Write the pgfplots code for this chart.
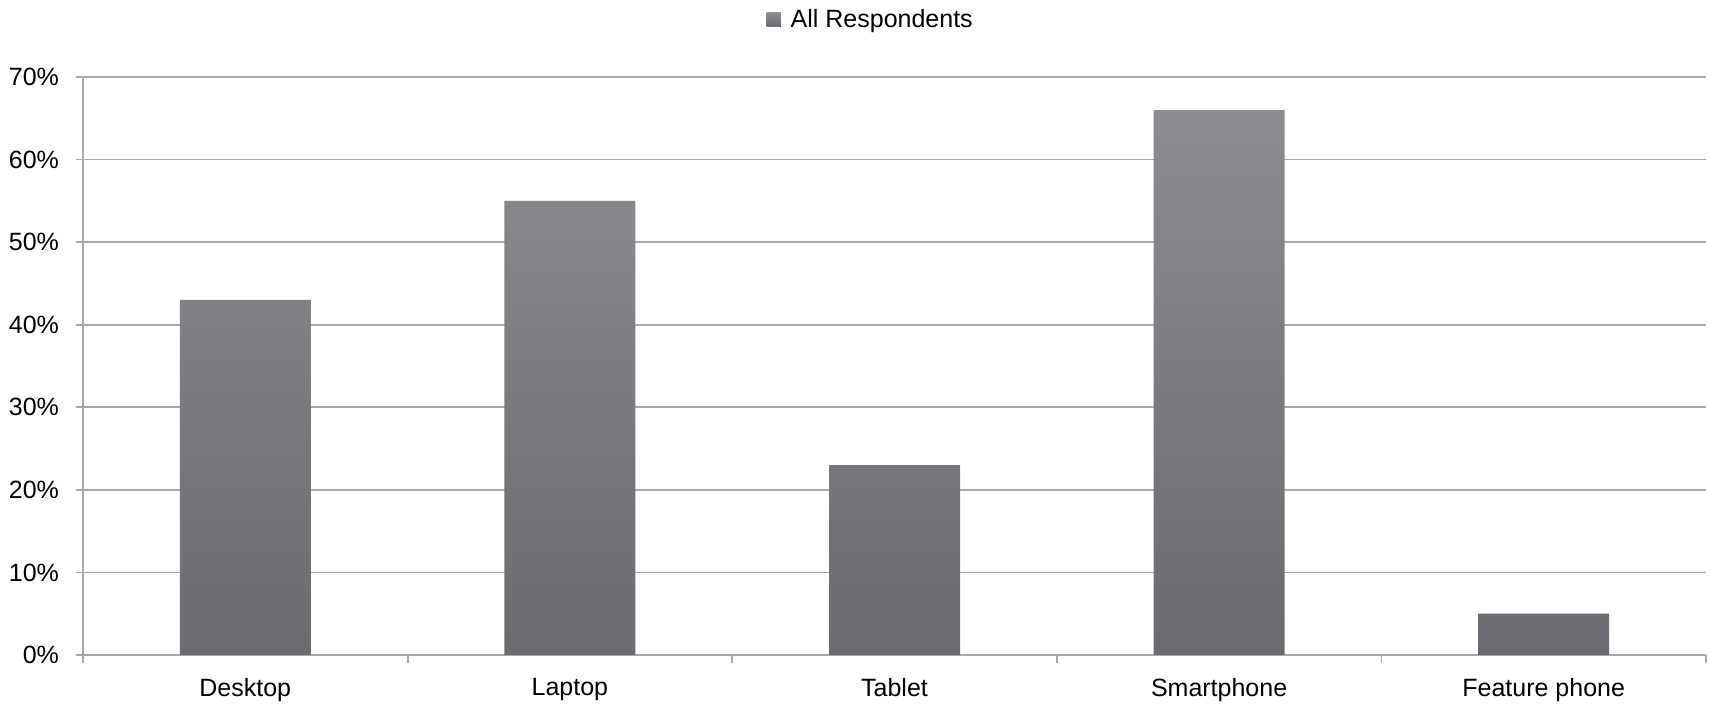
\documentclass[border=0pt]{standalone}
\usepackage{pgfplots}
\pgfplotsset{compat=1.18}
\usepackage{fontspec}
\setmainfont{Liberation Sans}
\definecolor{barTop}{HTML}{8C8D91}
\definecolor{barBot}{HTML}{6A6B6F}
\definecolor{gridc}{HTML}{A8A8A8}
\begin{document}
\begin{tikzpicture}
\useasboundingbox (-41.5pt,-24.5pt) rectangle (813pt,327.5pt);
\begin{axis}[
  at={(0,0)}, anchor=south west,
  scale only axis, width=811.5pt, height=289pt,
  xmin=-0.5, xmax=4.5, ymin=0, ymax=70,
  axis x line*=bottom, axis y line*=left,
  axis line style={gridc, line width=0.9pt},
  xtick={0,1,2,3,4},
  xticklabels={Desktop, Laptop, Tablet, Smartphone, Feature phone},
  major x tick style={draw=none},
  minor xtick={-0.5,0.5,1.5,2.5,3.5,4.5},
  minor x tick style={gridc, line width=0.9pt},
  minor tick length=4pt,
  xtick pos=bottom, ytick pos=left,
  ytick={0,10,...,70},
  yticklabel={\pgfmathprintnumber{\tick}\%},
  /pgf/number format/assume math mode=true,
  tick align=outside,
  major tick length=3.5pt,
  major y tick style={gridc, line width=0.9pt},
  ymajorgrids, grid style={gridc, line width=0.9pt},
  tick label style={font=\fontsize{12.5}{14}\selectfont, black},
  xticklabel style={yshift=-4.5pt},
  yticklabel style={xshift=-5pt},
  legend style={at={(0.486,1.099)}, anchor=center, draw=none, fill=none,
    font=\fontsize{12.5}{14}\selectfont, legend columns=1,
    /tikz/every odd column/.style={column sep=3pt}},
  legend image code/.code={\fill[top color=barTop, bottom color=barBot] (0pt,-3.5pt) rectangle (7pt,3.5pt);},
  clip=false,
]
\addplot[ybar, bar width=65.5pt, draw=none, top color=barTop, bottom color=barBot]
  coordinates {(0,43) (1,55) (2,23) (3,66) (4,5)};
\addlegendentry{All Respondents}
\end{axis}
\end{tikzpicture}
\end{document}
